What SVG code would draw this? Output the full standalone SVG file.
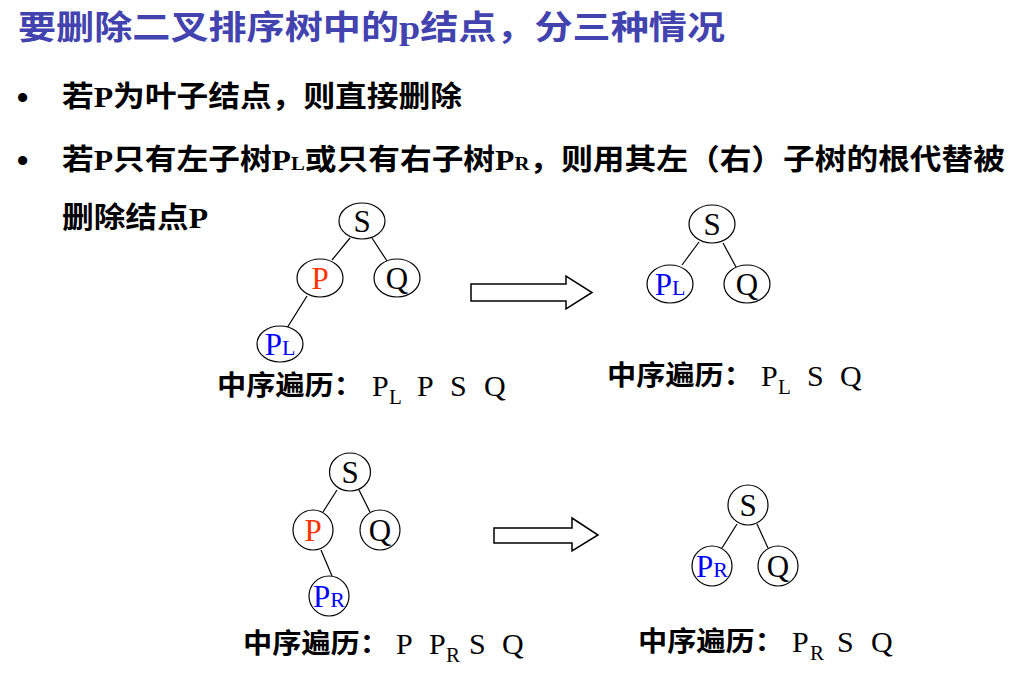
<svg xmlns="http://www.w3.org/2000/svg" width="1024" height="676" viewBox="0 0 1024 676">
<style>
.title{font-family:"Noto Sans CJK SC","Liberation Sans",sans-serif;font-weight:bold;font-size:33px;fill:#4343B0}
.title .lat{font-family:"Liberation Serif","Noto Sans CJK SC",serif}
.bul{font-family:"Noto Sans CJK SC","Liberation Sans",sans-serif;font-weight:bold;font-size:29px;fill:#000}
.bul .lat{font-family:"Liberation Serif",serif;font-weight:bold}
.dot{font-family:"Liberation Sans",sans-serif;font-size:32px;font-weight:bold;fill:#000}
.node ellipse{fill:#fff;stroke:#000;stroke-width:1.2}
.lbl{font-family:"Liberation Serif",serif;font-size:31px;text-anchor:middle;fill:#000}
.red{fill:#FF3300}
.blue{fill:#0000FF}
.cn{font-family:"Noto Sans CJK SC","Liberation Sans",sans-serif;font-size:27px;font-weight:bold;fill:#000}
.tr{font-family:"Liberation Serif",serif;font-size:30px;fill:#000}
.sub{font-family:"Liberation Serif",serif;font-size:21px;fill:#000}
.edge line{stroke:#000;stroke-width:1.2}
.arrow{fill:#fff;stroke:#000;stroke-width:1.5}
</style>

<text class="title" x="18" y="39" textLength="707" lengthAdjust="spacingAndGlyphs">要删除二叉排序树中的<tspan class="lat">p</tspan>结点，分三种情况</text>

<text class="dot" x="17" y="108">•</text>
<text class="bul" x="62" y="107" textLength="400" lengthAdjust="spacingAndGlyphs">若<tspan class="lat">P</tspan>为叶子结点，则直接删除</text>
<text class="dot" x="17" y="171">•</text>
<text class="bul" x="62" y="170" textLength="943" lengthAdjust="spacingAndGlyphs">若<tspan class="lat">P</tspan>只有左子树<tspan class="lat">P</tspan><tspan class="lat" font-size="19">L</tspan>或只有右子树<tspan class="lat">P</tspan><tspan class="lat" font-size="19">R</tspan>，则用其左（右）子树的根代替被</text>
<text class="bul" x="62" y="228" textLength="146" lengthAdjust="spacingAndGlyphs">删除结点<tspan class="lat">P</tspan></text>

<g id="connectors" class="edge">
  <line x1="350" y1="238" x2="332" y2="260"/>
  <line x1="372" y1="238" x2="387" y2="261"/>
  <line x1="307" y1="296" x2="287" y2="328"/>
  <line x1="699" y1="242" x2="682" y2="265"/>
  <line x1="723" y1="243" x2="736" y2="267"/>
  <line x1="337" y1="490" x2="323" y2="512"/>
  <line x1="359" y1="490" x2="370" y2="512"/>
  <line x1="321" y1="550" x2="332" y2="576"/>
  <line x1="737" y1="524" x2="722" y2="548"/>
  <line x1="757" y1="524" x2="768" y2="548"/>
</g>

<!-- Tree 1 (before) -->
<g id="t1-S" class="node"><ellipse cx="362" cy="221" rx="23" ry="18"/><text class="lbl" x="362" y="232">S</text></g>
<g id="t1-P" class="node"><ellipse cx="320" cy="278" rx="23" ry="19"/><text class="lbl red" x="320" y="289">P</text></g>
<g id="t1-Q" class="node"><ellipse cx="397" cy="278" rx="23" ry="19"/><text class="lbl" x="397" y="289">Q</text></g>
<g id="t1-PL" class="node"><ellipse cx="280" cy="344" rx="23" ry="18"/><text class="lbl blue" x="280" y="355">P<tspan font-size="22">L</tspan></text></g>

<!-- Tree 2 (after) -->
<g id="t2-S" class="node"><ellipse cx="712" cy="224" rx="23" ry="19"/><text class="lbl" x="712" y="235">S</text></g>
<g id="t2-PL" class="node"><ellipse cx="670" cy="284" rx="23" ry="19"/><text class="lbl blue" x="670" y="295">P<tspan font-size="22">L</tspan></text></g>
<g id="t2-Q" class="node"><ellipse cx="747" cy="284" rx="23" ry="19"/><text class="lbl" x="747" y="295">Q</text></g>

<!-- Tree 3 (before) -->
<g id="t3-S" class="node"><ellipse cx="350" cy="472" rx="20.5" ry="19"/><text class="lbl" x="350" y="483">S</text></g>
<g id="t3-P" class="node"><ellipse cx="313" cy="530" rx="20" ry="20"/><text class="lbl red" x="313" y="541">P</text></g>
<g id="t3-Q" class="node"><ellipse cx="380" cy="530" rx="20" ry="20"/><text class="lbl" x="380" y="541">Q</text></g>
<g id="t3-PR" class="node"><ellipse cx="329" cy="596" rx="20" ry="20"/><text class="lbl blue" x="329" y="607">P<tspan font-size="22">R</tspan></text></g>

<!-- Tree 4 (after) -->
<g id="t4-S" class="node"><ellipse cx="748" cy="505" rx="20" ry="20"/><text class="lbl" x="748" y="516">S</text></g>
<g id="t4-PR" class="node"><ellipse cx="712" cy="566" rx="20" ry="20"/><text class="lbl blue" x="712" y="577">P<tspan font-size="22">R</tspan></text></g>
<g id="t4-Q" class="node"><ellipse cx="778" cy="566" rx="20" ry="20"/><text class="lbl" x="778" y="577">Q</text></g>

<!-- Block arrows -->
<g id="arrow1"><path class="arrow" d="M471,284 H566 V276 L592,292.5 L566,309 V301 H471 Z"/></g>
<g id="arrow2"><path class="arrow" d="M494,528 H572 V518 L598,535 L572,551 V543 H494 Z"/></g>

<!-- Traversal labels -->
<g id="trav1">
  <text class="cn" x="217" y="395" textLength="146" lengthAdjust="spacingAndGlyphs">中序遍历：</text>
  <text class="tr" x="372" y="396">P</text><text class="sub" x="389" y="404">L</text>
  <text class="tr" x="417" y="396">P</text>
  <text class="tr" x="450" y="396">S</text>
  <text class="tr" x="484" y="396">Q</text>
</g>
<g id="trav2">
  <text class="cn" x="607" y="385" textLength="146" lengthAdjust="spacingAndGlyphs">中序遍历：</text>
  <text class="tr" x="761" y="386">P</text><text class="sub" x="778" y="394">L</text>
  <text class="tr" x="807" y="386">S</text>
  <text class="tr" x="840" y="386">Q</text>
</g>
<g id="trav3">
  <text class="cn" x="243" y="653" textLength="146" lengthAdjust="spacingAndGlyphs">中序遍历：</text>
  <text class="tr" x="396" y="654">P</text>
  <text class="tr" x="429" y="654">P</text><text class="sub" x="446" y="662">R</text>
  <text class="tr" x="469" y="654">S</text>
  <text class="tr" x="502" y="654">Q</text>
</g>
<g id="trav4">
  <text class="cn" x="638" y="651" textLength="146" lengthAdjust="spacingAndGlyphs">中序遍历：</text>
  <text class="tr" x="792" y="652">P</text><text class="sub" x="810" y="660">R</text>
  <text class="tr" x="837" y="652">S</text>
  <text class="tr" x="871" y="652">Q</text>
</g>
</svg>
